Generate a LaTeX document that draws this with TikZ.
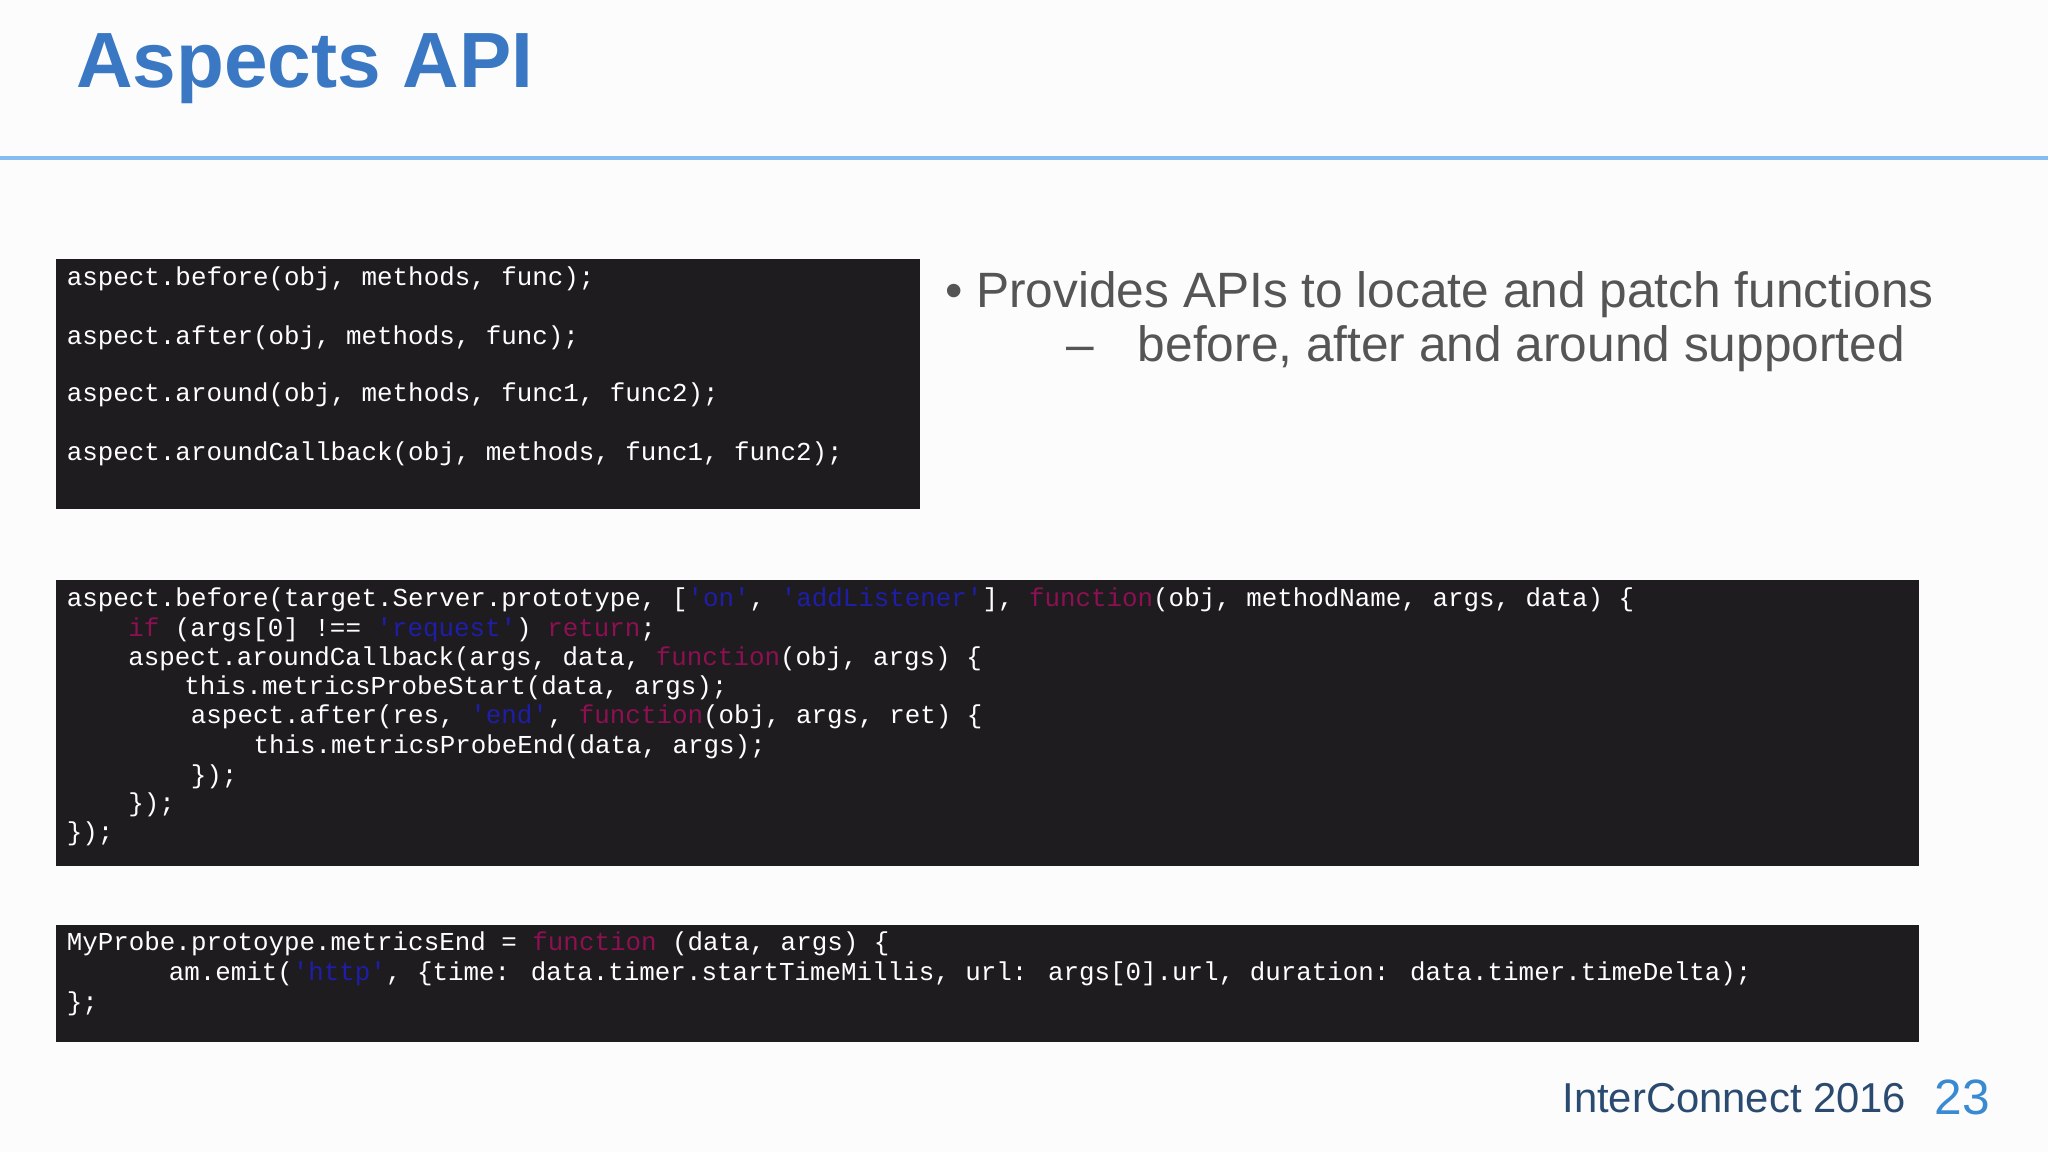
\documentclass[tikz,border=0pt]{standalone}
\usepackage{fontspec}
\setmainfont{Liberation Sans}
\newfontfamily\codefont{Liberation Mono}
\definecolor{titleblue}{HTML}{3A78C4}
\definecolor{rulebl}{HTML}{86BDF0}
\definecolor{codebg}{HTML}{1E1C1F}
\definecolor{kw}{HTML}{8C1052}
\definecolor{str}{HTML}{1E1EA8}
\definecolor{bodygray}{HTML}{555555}
\definecolor{footblue}{HTML}{2A4A70}
\definecolor{numblue}{HTML}{3A8AD2}
\newcommand{\K}[1]{\textcolor{kw}{#1}}
\newcommand{\Ss}[1]{\textcolor{str}{#1}}
\begin{document}
\begin{tikzpicture}[x=1pt,y=-1pt,
  codeline/.style={anchor=mid west,inner sep=0pt,text=white,font=\codefont\fontsize{19.8}{22}\selectfont},
  codebox/.style={fill=codebg,draw=none}]
\useasboundingbox[fill=white!99!black] (0,0) rectangle (1568,882);
\node[anchor=mid west,inner sep=0pt,text=titleblue,font=\bfseries\fontsize{60}{70}\selectfont] (title) at (58,64) {Aspects API};
\fill[rulebl] (0,119.5) rectangle (1568,122.5);
% box 1
\fill[codebox] (43,198) rectangle (704,390);
\node[codeline] (a1) at (51,216) {aspect.before(obj, methods, func);};
\node[codeline] (a2) at (51,261) {aspect.after(obj, methods, func);};
\node[codeline] (a3) at (51,305) {aspect.around(obj, methods, func1, func2);};
\node[codeline] (a4) at (51,350) {aspect.aroundCallback(obj, methods, func1, func2);};
% bullets
\node[anchor=mid west,inner sep=0pt,text=bodygray,font=\fontsize{38}{44}\selectfont] (b1) at (724,233) {•\hspace{10pt}Provides APIs to locate and patch functions};
\node[anchor=mid west,inner sep=0pt,text=bodygray,font=\fontsize{38}{44}\selectfont] (d2) at (816,274) {–};
\node[anchor=mid west,inner sep=0pt,text=bodygray,font=\fontsize{38}{44}\selectfont] (b2) at (871,274) {before, after and around supported};
% box 2
\fill[codebox] (43,444) rectangle (1469,663);
\node[codeline] (c1) at (51,462) {aspect.before(target.Server.prototype, [\Ss{'on'}, \Ss{'addListener'}], \K{function}(obj, methodName, args, data) \{};
\node[codeline] (c2) at (98,485) {\K{if} (args[0] !== \Ss{'request'}) \K{return};};
\node[codeline] (c3) at (98,507) {aspect.aroundCallback(args, data, \K{function}(obj, args) \{};
\node[codeline] (c4) at (141,529) {this.metricsProbeStart(data, args);};
\node[codeline] (c5) at (146,551) {aspect.after(res, \Ss{'end'}, \K{function}(obj, args, ret) \{};
\node[codeline] (c6) at (194,574) {this.metricsProbeEnd(data, args);};
\node[codeline] (c7) at (146,597) {\});};
\node[codeline] (c8) at (98,619) {\});};
\node[codeline] (c9) at (51,641) {\});};
% box 3
\fill[codebox] (43,708) rectangle (1469,798);
\node[codeline] (e1) at (51,725) {MyProbe.protoype.metricsEnd = \K{function} (data, args) \{};
\node[codeline] (e2) at (129,748) {am.emit(\Ss{'http'}, \{time: data.timer.startTimeMillis, url: args[0].url, duration: data.timer.timeDelta);};
\node[codeline] (e3) at (51,771) {\};};
% footer
\node[anchor=mid west,inner sep=0pt,text=footblue,font=\fontsize{32}{36}\selectfont] (foot) at (1196,849) {InterConnect 2016};
\node[anchor=mid west,inner sep=0pt,text=numblue,font=\fontsize{38}{44}\selectfont] (num) at (1481,851) {23};
\end{tikzpicture}
\end{document}
